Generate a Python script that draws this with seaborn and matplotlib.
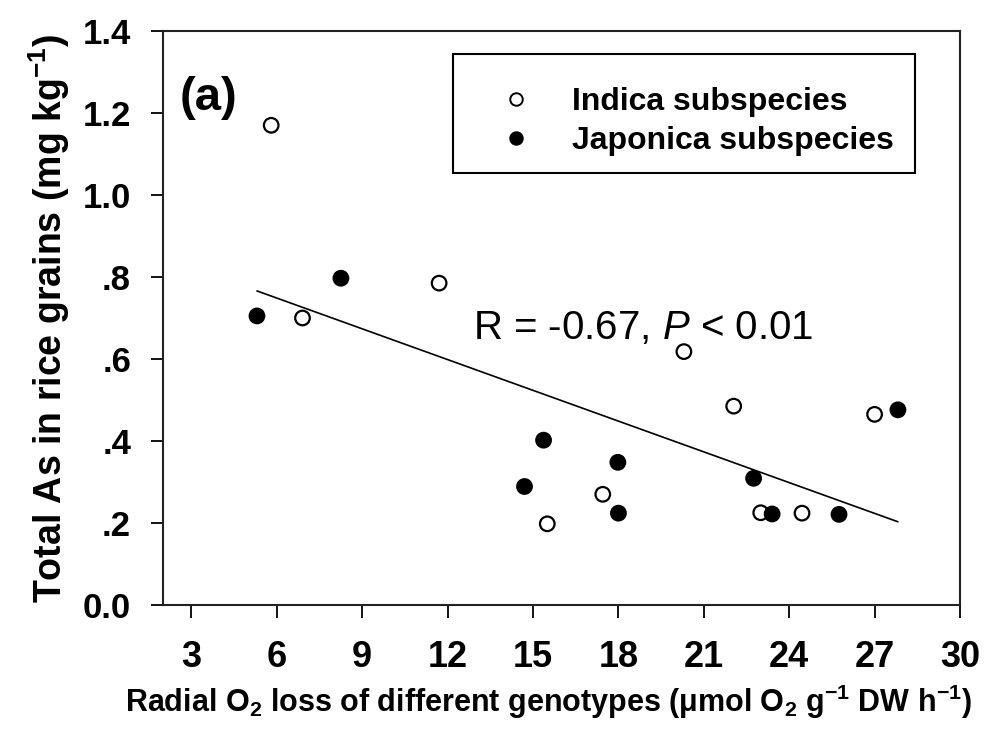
import numpy as np
import pandas as pd
import seaborn as sns
import matplotlib
matplotlib.use("Agg")
import matplotlib.pyplot as plt
from matplotlib.lines import Line2D
from matplotlib.patches import Rectangle

# Data
indica_x = [5.8, 6.9, 11.7, 15.5, 17.45, 20.3, 22.05, 23.0, 24.45, 27.0]
indica_y = [1.17, 0.70, 0.785, 0.198, 0.27, 0.618, 0.485, 0.225, 0.224, 0.465]
japonica_x = [5.3, 8.25, 14.7, 15.37, 17.98, 18.0, 22.75, 23.4, 25.75, 27.82]
japonica_y = [0.705, 0.797, 0.289, 0.402, 0.348, 0.224, 0.309, 0.222, 0.221, 0.476]
groups = ["Indica subspecies", "Japonica subspecies"]
x_ticks = [3, 6, 9, 12, 15, 18, 21, 24, 27, 30]
y_ticks = [0.0, 0.2, 0.4, 0.6, 0.8, 1.0, 1.2, 1.4]
y_ticklabels = ["0.0", ".2", ".4", ".6", ".8", "1.0", "1.2", "1.4"]

df = pd.DataFrame({
    "x": indica_x + japonica_x,
    "y": indica_y + japonica_y,
    "group": [groups[0]] * len(indica_x) + [groups[1]] * len(japonica_x),
})

sns.set_theme(style="ticks")
plt.rcParams["font.family"] = ["Liberation Sans", "DejaVu Sans"]
plt.rcParams["mathtext.fontset"] = "custom"
plt.rcParams["mathtext.rm"] = "Liberation Sans"
plt.rcParams["mathtext.it"] = "Liberation Sans:italic"
plt.rcParams["mathtext.bf"] = "Liberation Sans:bold"
plt.rcParams["mathtext.default"] = "regular"
plt.rcParams["text.color"] = "black"
plt.rcParams["axes.labelcolor"] = "black"

fig = plt.figure(figsize=(10.07, 7.29), dpi=100)
ax = fig.add_axes([0.1619, 0.1701, 0.7914, 0.7874])

sns.scatterplot(data=df, x="x", y="y", hue="group",
                palette={groups[0]: "white", groups[1]: "black"},
                edgecolor="black", linewidth=1.6, s=110, legend=False, ax=ax, zorder=3)
# linear regression across all genotypes
sns.regplot(data=df, x="x", y="y", scatter=False, ci=None, truncate=True,
            line_kws={"color": "black", "linewidth": 1.2}, ax=ax)

ax.set_xlim(2, 30)
ax.set_ylim(0, 1.4)
ax.set_xticks(x_ticks)
ax.set_yticks(y_ticks)
ax.set_yticklabels(y_ticklabels)
for lbl in ax.get_xticklabels():
    lbl.set_fontweight("bold")
    lbl.set_fontsize(26)
for lbl in ax.get_yticklabels():
    lbl.set_fontweight("bold")
    lbl.set_fontsize(25)
ax.tick_params(axis="both", direction="out", length=9, width=1.3, colors="black")
ax.tick_params(axis="x", pad=16)
ax.tick_params(axis="y", pad=14)
for sp in ax.spines.values():
    sp.set_visible(True)
    sp.set_linewidth(1.5)
    sp.set_color("#222222")

ax.set_xlabel("Radial O$_2$ loss of different genotypes (\u03bcmol O$_2$ g$^{-1}$ DW h$^{-1}$)",
              fontsize=22, fontweight="bold", labelpad=6)
ax.xaxis.label.set_x(0.483)
ax.set_ylabel("Total As in rice grains (mg kg$^{\\mathbf{-1}}$)", fontsize=27, fontweight="bold",
              labelpad=8)

ax.text(0.021, 0.883, "(a)", transform=ax.transAxes, fontsize=34, fontweight="bold",
        va="center", ha="left")
ax.text(0.389, 0.483, "R = -0.67, $\\it{P}$ < 0.01", transform=ax.transAxes, fontsize=29,
        va="center", ha="left")

# legend box
ax.add_patch(Rectangle((0.364, 0.753), 0.944 - 0.364, 0.960 - 0.753, transform=ax.transAxes,
                       fill=False, edgecolor="black", linewidth=1.5, zorder=4))
handles = [Line2D([], [], marker="o", linestyle="none", markerfacecolor="white",
                  markeredgecolor="black", markersize=9, markeredgewidth=1.4),
           Line2D([], [], marker="o", linestyle="none", markerfacecolor="black",
                  markeredgecolor="black", markersize=9, markeredgewidth=1.4)]
leg = ax.legend(handles, groups, loc="upper left", bbox_to_anchor=(0.403, 0.902),
                fontsize=23, frameon=False, borderpad=0, handlelength=2.0,
                handletextpad=0.75, labelspacing=0.28, borderaxespad=0)
for t in leg.get_texts():
    t.set_fontweight("bold")

fig.savefig("out.png", dpi=100)
